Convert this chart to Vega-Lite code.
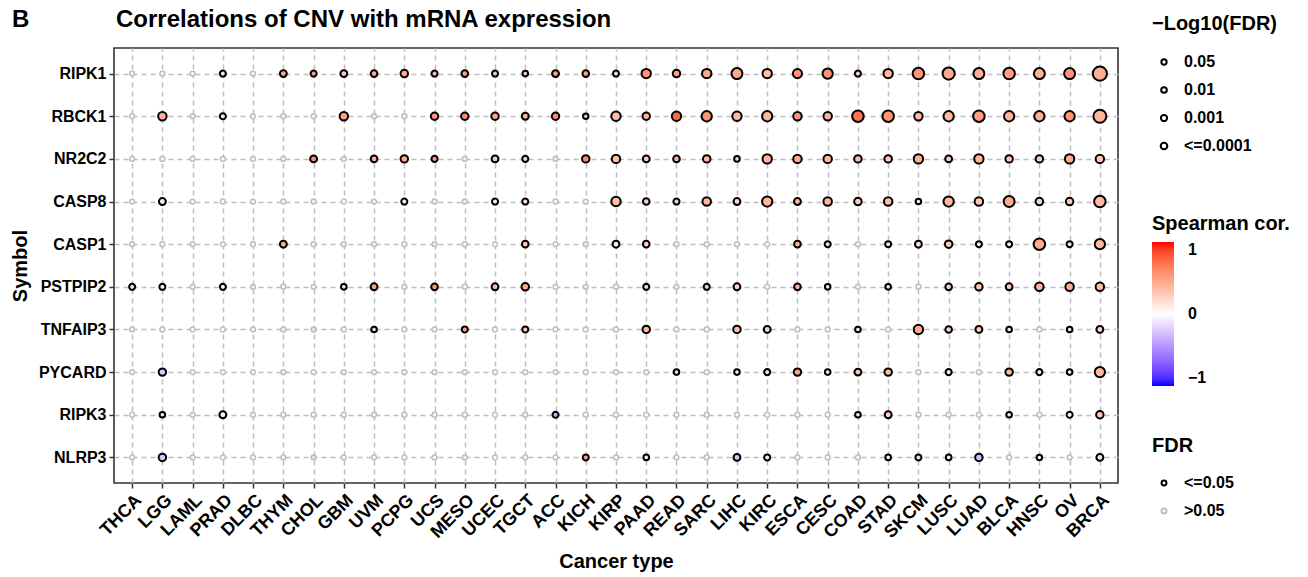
{
  "$schema": "https://vega.github.io/schema/vega-lite/v6.json",
  "width": 1004,
  "height": 435,
  "autosize": {"type": "none"},
  "padding": {"left": 114, "top": 48, "right": 190, "bottom": 94},
  "background": "white",
  "title": {
    "text": "B\u00a0\u00a0\u00a0\u00a0\u00a0\u00a0\u00a0\u00a0\u00a0\u00a0\u00a0\u00a0\u00a0Correlations of CNV with mRNA expression",
    "anchor": "start",
    "frame": "group",
    "dx": -102,
    "offset": -37,
    "baseline": "alphabetic",
    "font": "Liberation Sans",
    "fontSize": 24,
    "fontWeight": "bold",
    "color": "black"
  },
  "config": {
    "font": "Liberation Sans",
    "view": {"stroke": "#333333", "strokeWidth": 1.6},
    "axis": {
      "domain": false,
      "grid": true,
      "gridColor": "#BEBEBE",
      "gridDash": [5, 4],
      "gridWidth": 1.5,
      "ticks": true,
      "tickColor": "#333333",
      "tickWidth": 1.5,
      "tickSize": 5,
      "labelColor": "black",
      "labelFont": "Liberation Sans",
      "labelFontWeight": "bold",
      "labelFontSize": 16,
      "labelPadding": 3,
      "titleColor": "black",
      "titleFont": "Liberation Sans",
      "titleFontWeight": "bold",
      "titleFontSize": 20
    },
    "legend": {
      "titleFont": "Liberation Sans",
      "titleFontSize": 20,
      "titleFontWeight": "bold",
      "titleColor": "black",
      "labelFont": "Liberation Sans",
      "labelFontSize": 16,
      "labelFontWeight": "bold",
      "labelColor": "black"
    }
  },
  "data": {
    "values": [
      {"symbol": "RIPK1", "cancer": "THCA", "cor": 0.03, "logFDR": 0.5, "FDR": ">0.05"},
      {"symbol": "RIPK1", "cancer": "LGG", "cor": 0.02, "logFDR": 0.6, "FDR": ">0.05"},
      {"symbol": "RIPK1", "cancer": "LAML", "cor": 0.0, "logFDR": 0.4, "FDR": ">0.05"},
      {"symbol": "RIPK1", "cancer": "PRAD", "cor": 0.15, "logFDR": 2.8, "FDR": "<=0.05"},
      {"symbol": "RIPK1", "cancer": "DLBC", "cor": 0.06, "logFDR": 0.5, "FDR": ">0.05"},
      {"symbol": "RIPK1", "cancer": "THYM", "cor": 0.45, "logFDR": 4.6, "FDR": "<=0.05"},
      {"symbol": "RIPK1", "cancer": "CHOL", "cor": 0.5, "logFDR": 2.8, "FDR": "<=0.05"},
      {"symbol": "RIPK1", "cancer": "GBM", "cor": 0.3, "logFDR": 4.6, "FDR": "<=0.05"},
      {"symbol": "RIPK1", "cancer": "UVM", "cor": 0.45, "logFDR": 4.0, "FDR": "<=0.05"},
      {"symbol": "RIPK1", "cancer": "PCPG", "cor": 0.45, "logFDR": 6.0, "FDR": "<=0.05"},
      {"symbol": "RIPK1", "cancer": "UCS", "cor": 0.35, "logFDR": 2.8, "FDR": "<=0.05"},
      {"symbol": "RIPK1", "cancer": "MESO", "cor": 0.5, "logFDR": 4.0, "FDR": "<=0.05"},
      {"symbol": "RIPK1", "cancer": "UCEC", "cor": 0.3, "logFDR": 2.8, "FDR": "<=0.05"},
      {"symbol": "RIPK1", "cancer": "TGCT", "cor": 0.25, "logFDR": 2.0, "FDR": "<=0.05"},
      {"symbol": "RIPK1", "cancer": "ACC", "cor": 0.5, "logFDR": 4.6, "FDR": "<=0.05"},
      {"symbol": "RIPK1", "cancer": "KICH", "cor": 0.5, "logFDR": 4.0, "FDR": "<=0.05"},
      {"symbol": "RIPK1", "cancer": "KIRP", "cor": 0.25, "logFDR": 2.8, "FDR": "<=0.05"},
      {"symbol": "RIPK1", "cancer": "PAAD", "cor": 0.55, "logFDR": 11.3, "FDR": "<=0.05"},
      {"symbol": "RIPK1", "cancer": "READ", "cor": 0.5, "logFDR": 6.0, "FDR": "<=0.05"},
      {"symbol": "RIPK1", "cancer": "SARC", "cor": 0.45, "logFDR": 11.3, "FDR": "<=0.05"},
      {"symbol": "RIPK1", "cancer": "LIHC", "cor": 0.45, "logFDR": 16.7, "FDR": "<=0.05"},
      {"symbol": "RIPK1", "cancer": "KIRC", "cor": 0.35, "logFDR": 11.3, "FDR": "<=0.05"},
      {"symbol": "RIPK1", "cancer": "ESCA", "cor": 0.55, "logFDR": 10.4, "FDR": "<=0.05"},
      {"symbol": "RIPK1", "cancer": "CESC", "cor": 0.55, "logFDR": 14.3, "FDR": "<=0.05"},
      {"symbol": "RIPK1", "cancer": "COAD", "cor": 0.25, "logFDR": 2.8, "FDR": "<=0.05"},
      {"symbol": "RIPK1", "cancer": "STAD", "cor": 0.38, "logFDR": 11.3, "FDR": "<=0.05"},
      {"symbol": "RIPK1", "cancer": "SKCM", "cor": 0.55, "logFDR": 18.8, "FDR": "<=0.05"},
      {"symbol": "RIPK1", "cancer": "LUSC", "cor": 0.45, "logFDR": 21.4, "FDR": "<=0.05"},
      {"symbol": "RIPK1", "cancer": "LUAD", "cor": 0.42, "logFDR": 16.7, "FDR": "<=0.05"},
      {"symbol": "RIPK1", "cancer": "BLCA", "cor": 0.5, "logFDR": 18.8, "FDR": "<=0.05"},
      {"symbol": "RIPK1", "cancer": "HNSC", "cor": 0.42, "logFDR": 16.7, "FDR": "<=0.05"},
      {"symbol": "RIPK1", "cancer": "OV", "cor": 0.55, "logFDR": 16.7, "FDR": "<=0.05"},
      {"symbol": "RIPK1", "cancer": "BRCA", "cor": 0.42, "logFDR": 30.0, "FDR": "<=0.05"},

      {"symbol": "RBCK1", "cancer": "THCA", "cor": 0.03, "logFDR": 0.5, "FDR": ">0.05"},
      {"symbol": "RBCK1", "cancer": "LGG", "cor": 0.4, "logFDR": 8.6, "FDR": "<=0.05"},
      {"symbol": "RBCK1", "cancer": "LAML", "cor": -0.04, "logFDR": 0.4, "FDR": ">0.05"},
      {"symbol": "RBCK1", "cancer": "PRAD", "cor": 0.1, "logFDR": 2.8, "FDR": "<=0.05"},
      {"symbol": "RBCK1", "cancer": "DLBC", "cor": 0.05, "logFDR": 0.5, "FDR": ">0.05"},
      {"symbol": "RBCK1", "cancer": "THYM", "cor": 0.05, "logFDR": 0.6, "FDR": ">0.05"},
      {"symbol": "RBCK1", "cancer": "CHOL", "cor": 0.08, "logFDR": 0.5, "FDR": ">0.05"},
      {"symbol": "RBCK1", "cancer": "GBM", "cor": 0.5, "logFDR": 8.6, "FDR": "<=0.05"},
      {"symbol": "RBCK1", "cancer": "UVM", "cor": 0.1, "logFDR": 0.7, "FDR": ">0.05"},
      {"symbol": "RBCK1", "cancer": "PCPG", "cor": 0.05, "logFDR": 0.6, "FDR": ">0.05"},
      {"symbol": "RBCK1", "cancer": "UCS", "cor": 0.55, "logFDR": 6.0, "FDR": "<=0.05"},
      {"symbol": "RBCK1", "cancer": "MESO", "cor": 0.6, "logFDR": 6.0, "FDR": "<=0.05"},
      {"symbol": "RBCK1", "cancer": "UCEC", "cor": 0.45, "logFDR": 6.0, "FDR": "<=0.05"},
      {"symbol": "RBCK1", "cancer": "TGCT", "cor": 0.4, "logFDR": 4.6, "FDR": "<=0.05"},
      {"symbol": "RBCK1", "cancer": "ACC", "cor": 0.6, "logFDR": 6.0, "FDR": "<=0.05"},
      {"symbol": "RBCK1", "cancer": "KICH", "cor": 0.3, "logFDR": 1.6, "FDR": "<=0.05"},
      {"symbol": "RBCK1", "cancer": "KIRP", "cor": 0.35, "logFDR": 11.3, "FDR": "<=0.05"},
      {"symbol": "RBCK1", "cancer": "PAAD", "cor": 0.4, "logFDR": 6.0, "FDR": "<=0.05"},
      {"symbol": "RBCK1", "cancer": "READ", "cor": 0.75, "logFDR": 11.3, "FDR": "<=0.05"},
      {"symbol": "RBCK1", "cancer": "SARC", "cor": 0.55, "logFDR": 14.3, "FDR": "<=0.05"},
      {"symbol": "RBCK1", "cancer": "LIHC", "cor": 0.38, "logFDR": 11.3, "FDR": "<=0.05"},
      {"symbol": "RBCK1", "cancer": "KIRC", "cor": 0.38, "logFDR": 14.3, "FDR": "<=0.05"},
      {"symbol": "RBCK1", "cancer": "ESCA", "cor": 0.55, "logFDR": 8.6, "FDR": "<=0.05"},
      {"symbol": "RBCK1", "cancer": "CESC", "cor": 0.4, "logFDR": 8.6, "FDR": "<=0.05"},
      {"symbol": "RBCK1", "cancer": "COAD", "cor": 0.7, "logFDR": 18.8, "FDR": "<=0.05"},
      {"symbol": "RBCK1", "cancer": "STAD", "cor": 0.55, "logFDR": 18.8, "FDR": "<=0.05"},
      {"symbol": "RBCK1", "cancer": "SKCM", "cor": 0.38, "logFDR": 8.6, "FDR": "<=0.05"},
      {"symbol": "RBCK1", "cancer": "LUSC", "cor": 0.38, "logFDR": 14.3, "FDR": "<=0.05"},
      {"symbol": "RBCK1", "cancer": "LUAD", "cor": 0.5, "logFDR": 18.8, "FDR": "<=0.05"},
      {"symbol": "RBCK1", "cancer": "BLCA", "cor": 0.4, "logFDR": 14.3, "FDR": "<=0.05"},
      {"symbol": "RBCK1", "cancer": "HNSC", "cor": 0.42, "logFDR": 14.3, "FDR": "<=0.05"},
      {"symbol": "RBCK1", "cancer": "OV", "cor": 0.55, "logFDR": 14.3, "FDR": "<=0.05"},
      {"symbol": "RBCK1", "cancer": "BRCA", "cor": 0.4, "logFDR": 25.0, "FDR": "<=0.05"},

      {"symbol": "NR2C2", "cancer": "THCA", "cor": 0.02, "logFDR": 0.5, "FDR": ">0.05"},
      {"symbol": "NR2C2", "cancer": "LGG", "cor": 0.03, "logFDR": 0.7, "FDR": ">0.05"},
      {"symbol": "NR2C2", "cancer": "LAML", "cor": 0.0, "logFDR": 0.4, "FDR": ">0.05"},
      {"symbol": "NR2C2", "cancer": "PRAD", "cor": 0.04, "logFDR": 0.8, "FDR": ">0.05"},
      {"symbol": "NR2C2", "cancer": "DLBC", "cor": 0.02, "logFDR": 0.5, "FDR": ">0.05"},
      {"symbol": "NR2C2", "cancer": "THYM", "cor": -0.05, "logFDR": 0.6, "FDR": ">0.05"},
      {"symbol": "NR2C2", "cancer": "CHOL", "cor": 0.6, "logFDR": 4.6, "FDR": "<=0.05"},
      {"symbol": "NR2C2", "cancer": "GBM", "cor": 0.1, "logFDR": 0.8, "FDR": ">0.05"},
      {"symbol": "NR2C2", "cancer": "UVM", "cor": 0.45, "logFDR": 4.0, "FDR": "<=0.05"},
      {"symbol": "NR2C2", "cancer": "PCPG", "cor": 0.45, "logFDR": 6.0, "FDR": "<=0.05"},
      {"symbol": "NR2C2", "cancer": "UCS", "cor": 0.5, "logFDR": 2.8, "FDR": "<=0.05"},
      {"symbol": "NR2C2", "cancer": "MESO", "cor": 0.1, "logFDR": 0.7, "FDR": ">0.05"},
      {"symbol": "NR2C2", "cancer": "UCEC", "cor": 0.3, "logFDR": 4.6, "FDR": "<=0.05"},
      {"symbol": "NR2C2", "cancer": "TGCT", "cor": 0.25, "logFDR": 2.8, "FDR": "<=0.05"},
      {"symbol": "NR2C2", "cancer": "ACC", "cor": 0.1, "logFDR": 0.6, "FDR": ">0.05"},
      {"symbol": "NR2C2", "cancer": "KICH", "cor": 0.6, "logFDR": 6.0, "FDR": "<=0.05"},
      {"symbol": "NR2C2", "cancer": "KIRP", "cor": 0.35, "logFDR": 8.6, "FDR": "<=0.05"},
      {"symbol": "NR2C2", "cancer": "PAAD", "cor": 0.3, "logFDR": 4.6, "FDR": "<=0.05"},
      {"symbol": "NR2C2", "cancer": "READ", "cor": 0.4, "logFDR": 4.0, "FDR": "<=0.05"},
      {"symbol": "NR2C2", "cancer": "SARC", "cor": 0.35, "logFDR": 6.0, "FDR": "<=0.05"},
      {"symbol": "NR2C2", "cancer": "LIHC", "cor": 0.25, "logFDR": 2.0, "FDR": "<=0.05"},
      {"symbol": "NR2C2", "cancer": "KIRC", "cor": 0.4, "logFDR": 11.3, "FDR": "<=0.05"},
      {"symbol": "NR2C2", "cancer": "ESCA", "cor": 0.45, "logFDR": 8.6, "FDR": "<=0.05"},
      {"symbol": "NR2C2", "cancer": "CESC", "cor": 0.38, "logFDR": 8.6, "FDR": "<=0.05"},
      {"symbol": "NR2C2", "cancer": "COAD", "cor": 0.35, "logFDR": 6.0, "FDR": "<=0.05"},
      {"symbol": "NR2C2", "cancer": "STAD", "cor": 0.3, "logFDR": 6.0, "FDR": "<=0.05"},
      {"symbol": "NR2C2", "cancer": "SKCM", "cor": 0.42, "logFDR": 11.3, "FDR": "<=0.05"},
      {"symbol": "NR2C2", "cancer": "LUSC", "cor": 0.3, "logFDR": 4.6, "FDR": "<=0.05"},
      {"symbol": "NR2C2", "cancer": "LUAD", "cor": 0.4, "logFDR": 11.3, "FDR": "<=0.05"},
      {"symbol": "NR2C2", "cancer": "BLCA", "cor": 0.32, "logFDR": 6.0, "FDR": "<=0.05"},
      {"symbol": "NR2C2", "cancer": "HNSC", "cor": 0.3, "logFDR": 6.0, "FDR": "<=0.05"},
      {"symbol": "NR2C2", "cancer": "OV", "cor": 0.45, "logFDR": 11.3, "FDR": "<=0.05"},
      {"symbol": "NR2C2", "cancer": "BRCA", "cor": 0.3, "logFDR": 8.6, "FDR": "<=0.05"},

      {"symbol": "CASP8", "cancer": "THCA", "cor": 0.02, "logFDR": 0.5, "FDR": ">0.05"},
      {"symbol": "CASP8", "cancer": "LGG", "cor": 0.1, "logFDR": 4.6, "FDR": "<=0.05"},
      {"symbol": "CASP8", "cancer": "LAML", "cor": 0.0, "logFDR": 0.4, "FDR": ">0.05"},
      {"symbol": "CASP8", "cancer": "PRAD", "cor": 0.03, "logFDR": 0.7, "FDR": ">0.05"},
      {"symbol": "CASP8", "cancer": "DLBC", "cor": 0.02, "logFDR": 0.5, "FDR": ">0.05"},
      {"symbol": "CASP8", "cancer": "THYM", "cor": 0.03, "logFDR": 0.6, "FDR": ">0.05"},
      {"symbol": "CASP8", "cancer": "CHOL", "cor": 0.1, "logFDR": 0.7, "FDR": ">0.05"},
      {"symbol": "CASP8", "cancer": "GBM", "cor": 0.03, "logFDR": 0.8, "FDR": ">0.05"},
      {"symbol": "CASP8", "cancer": "UVM", "cor": 0.04, "logFDR": 0.5, "FDR": ">0.05"},
      {"symbol": "CASP8", "cancer": "PCPG", "cor": 0.15, "logFDR": 2.8, "FDR": "<=0.05"},
      {"symbol": "CASP8", "cancer": "UCS", "cor": 0.1, "logFDR": 0.6, "FDR": ">0.05"},
      {"symbol": "CASP8", "cancer": "MESO", "cor": 0.08, "logFDR": 0.7, "FDR": ">0.05"},
      {"symbol": "CASP8", "cancer": "UCEC", "cor": 0.15, "logFDR": 2.8, "FDR": "<=0.05"},
      {"symbol": "CASP8", "cancer": "TGCT", "cor": 0.2, "logFDR": 2.8, "FDR": "<=0.05"},
      {"symbol": "CASP8", "cancer": "ACC", "cor": 0.05, "logFDR": 0.6, "FDR": ">0.05"},
      {"symbol": "CASP8", "cancer": "KICH", "cor": 0.04, "logFDR": 0.5, "FDR": ">0.05"},
      {"symbol": "CASP8", "cancer": "KIRP", "cor": 0.35, "logFDR": 11.3, "FDR": "<=0.05"},
      {"symbol": "CASP8", "cancer": "PAAD", "cor": 0.25, "logFDR": 4.0, "FDR": "<=0.05"},
      {"symbol": "CASP8", "cancer": "READ", "cor": 0.25, "logFDR": 2.8, "FDR": "<=0.05"},
      {"symbol": "CASP8", "cancer": "SARC", "cor": 0.4, "logFDR": 8.6, "FDR": "<=0.05"},
      {"symbol": "CASP8", "cancer": "LIHC", "cor": 0.25, "logFDR": 4.6, "FDR": "<=0.05"},
      {"symbol": "CASP8", "cancer": "KIRC", "cor": 0.4, "logFDR": 14.3, "FDR": "<=0.05"},
      {"symbol": "CASP8", "cancer": "ESCA", "cor": 0.4, "logFDR": 4.6, "FDR": "<=0.05"},
      {"symbol": "CASP8", "cancer": "CESC", "cor": 0.4, "logFDR": 8.6, "FDR": "<=0.05"},
      {"symbol": "CASP8", "cancer": "COAD", "cor": 0.3, "logFDR": 6.0, "FDR": "<=0.05"},
      {"symbol": "CASP8", "cancer": "STAD", "cor": 0.35, "logFDR": 8.6, "FDR": "<=0.05"},
      {"symbol": "CASP8", "cancer": "SKCM", "cor": 0.15, "logFDR": 2.0, "FDR": "<=0.05"},
      {"symbol": "CASP8", "cancer": "LUSC", "cor": 0.38, "logFDR": 14.3, "FDR": "<=0.05"},
      {"symbol": "CASP8", "cancer": "LUAD", "cor": 0.3, "logFDR": 8.6, "FDR": "<=0.05"},
      {"symbol": "CASP8", "cancer": "BLCA", "cor": 0.45, "logFDR": 16.7, "FDR": "<=0.05"},
      {"symbol": "CASP8", "cancer": "HNSC", "cor": 0.25, "logFDR": 6.0, "FDR": "<=0.05"},
      {"symbol": "CASP8", "cancer": "OV", "cor": 0.3, "logFDR": 6.0, "FDR": "<=0.05"},
      {"symbol": "CASP8", "cancer": "BRCA", "cor": 0.38, "logFDR": 18.8, "FDR": "<=0.05"},

      {"symbol": "CASP1", "cancer": "THCA", "cor": 0.02, "logFDR": 0.5, "FDR": ">0.05"},
      {"symbol": "CASP1", "cancer": "LGG", "cor": 0.03, "logFDR": 0.7, "FDR": ">0.05"},
      {"symbol": "CASP1", "cancer": "LAML", "cor": 0.0, "logFDR": 0.4, "FDR": ">0.05"},
      {"symbol": "CASP1", "cancer": "PRAD", "cor": 0.04, "logFDR": 0.8, "FDR": ">0.05"},
      {"symbol": "CASP1", "cancer": "DLBC", "cor": 0.02, "logFDR": 0.5, "FDR": ">0.05"},
      {"symbol": "CASP1", "cancer": "THYM", "cor": 0.45, "logFDR": 4.6, "FDR": "<=0.05"},
      {"symbol": "CASP1", "cancer": "CHOL", "cor": 0.1, "logFDR": 0.7, "FDR": ">0.05"},
      {"symbol": "CASP1", "cancer": "GBM", "cor": -0.05, "logFDR": 0.6, "FDR": ">0.05"},
      {"symbol": "CASP1", "cancer": "UVM", "cor": 0.03, "logFDR": 0.5, "FDR": ">0.05"},
      {"symbol": "CASP1", "cancer": "PCPG", "cor": 0.03, "logFDR": 0.6, "FDR": ">0.05"},
      {"symbol": "CASP1", "cancer": "UCS", "cor": 0.1, "logFDR": 0.6, "FDR": ">0.05"},
      {"symbol": "CASP1", "cancer": "MESO", "cor": 0.03, "logFDR": 0.7, "FDR": ">0.05"},
      {"symbol": "CASP1", "cancer": "UCEC", "cor": 0.03, "logFDR": 0.8, "FDR": ">0.05"},
      {"symbol": "CASP1", "cancer": "TGCT", "cor": 0.3, "logFDR": 4.0, "FDR": "<=0.05"},
      {"symbol": "CASP1", "cancer": "ACC", "cor": 0.03, "logFDR": 0.5, "FDR": ">0.05"},
      {"symbol": "CASP1", "cancer": "KICH", "cor": 0.1, "logFDR": 0.6, "FDR": ">0.05"},
      {"symbol": "CASP1", "cancer": "KIRP", "cor": 0.15, "logFDR": 4.6, "FDR": "<=0.05"},
      {"symbol": "CASP1", "cancer": "PAAD", "cor": 0.25, "logFDR": 4.0, "FDR": "<=0.05"},
      {"symbol": "CASP1", "cancer": "READ", "cor": 0.05, "logFDR": 0.5, "FDR": ">0.05"},
      {"symbol": "CASP1", "cancer": "SARC", "cor": 0.04, "logFDR": 0.7, "FDR": ">0.05"},
      {"symbol": "CASP1", "cancer": "LIHC", "cor": 0.04, "logFDR": 0.6, "FDR": ">0.05"},
      {"symbol": "CASP1", "cancer": "KIRC", "cor": 0.03, "logFDR": 0.8, "FDR": ">0.05"},
      {"symbol": "CASP1", "cancer": "ESCA", "cor": 0.4, "logFDR": 4.0, "FDR": "<=0.05"},
      {"symbol": "CASP1", "cancer": "CESC", "cor": 0.2, "logFDR": 2.8, "FDR": "<=0.05"},
      {"symbol": "CASP1", "cancer": "COAD", "cor": 0.03, "logFDR": 0.6, "FDR": ">0.05"},
      {"symbol": "CASP1", "cancer": "STAD", "cor": 0.15, "logFDR": 2.8, "FDR": "<=0.05"},
      {"symbol": "CASP1", "cancer": "SKCM", "cor": 0.2, "logFDR": 4.6, "FDR": "<=0.05"},
      {"symbol": "CASP1", "cancer": "LUSC", "cor": 0.3, "logFDR": 6.0, "FDR": "<=0.05"},
      {"symbol": "CASP1", "cancer": "LUAD", "cor": 0.15, "logFDR": 2.8, "FDR": "<=0.05"},
      {"symbol": "CASP1", "cancer": "BLCA", "cor": 0.15, "logFDR": 2.8, "FDR": "<=0.05"},
      {"symbol": "CASP1", "cancer": "HNSC", "cor": 0.45, "logFDR": 18.8, "FDR": "<=0.05"},
      {"symbol": "CASP1", "cancer": "OV", "cor": 0.15, "logFDR": 2.8, "FDR": "<=0.05"},
      {"symbol": "CASP1", "cancer": "BRCA", "cor": 0.38, "logFDR": 14.3, "FDR": "<=0.05"},

      {"symbol": "PSTPIP2", "cancer": "THCA", "cor": -0.15, "logFDR": 2.8, "FDR": "<=0.05"},
      {"symbol": "PSTPIP2", "cancer": "LGG", "cor": 0.1, "logFDR": 2.8, "FDR": "<=0.05"},
      {"symbol": "PSTPIP2", "cancer": "LAML", "cor": 0.0, "logFDR": 0.4, "FDR": ">0.05"},
      {"symbol": "PSTPIP2", "cancer": "PRAD", "cor": 0.1, "logFDR": 2.8, "FDR": "<=0.05"},
      {"symbol": "PSTPIP2", "cancer": "DLBC", "cor": 0.1, "logFDR": 0.6, "FDR": ">0.05"},
      {"symbol": "PSTPIP2", "cancer": "THYM", "cor": 0.04, "logFDR": 0.7, "FDR": ">0.05"},
      {"symbol": "PSTPIP2", "cancer": "CHOL", "cor": 0.05, "logFDR": 0.5, "FDR": ">0.05"},
      {"symbol": "PSTPIP2", "cancer": "GBM", "cor": 0.1, "logFDR": 2.0, "FDR": "<=0.05"},
      {"symbol": "PSTPIP2", "cancer": "UVM", "cor": 0.5, "logFDR": 4.6, "FDR": "<=0.05"},
      {"symbol": "PSTPIP2", "cancer": "PCPG", "cor": 0.04, "logFDR": 0.6, "FDR": ">0.05"},
      {"symbol": "PSTPIP2", "cancer": "UCS", "cor": 0.55, "logFDR": 4.0, "FDR": "<=0.05"},
      {"symbol": "PSTPIP2", "cancer": "MESO", "cor": 0.03, "logFDR": 0.7, "FDR": ">0.05"},
      {"symbol": "PSTPIP2", "cancer": "UCEC", "cor": 0.4, "logFDR": 4.6, "FDR": "<=0.05"},
      {"symbol": "PSTPIP2", "cancer": "TGCT", "cor": 0.45, "logFDR": 6.0, "FDR": "<=0.05"},
      {"symbol": "PSTPIP2", "cancer": "ACC", "cor": 0.03, "logFDR": 0.5, "FDR": ">0.05"},
      {"symbol": "PSTPIP2", "cancer": "KICH", "cor": 0.1, "logFDR": 0.6, "FDR": ">0.05"},
      {"symbol": "PSTPIP2", "cancer": "KIRP", "cor": 0.04, "logFDR": 0.7, "FDR": ">0.05"},
      {"symbol": "PSTPIP2", "cancer": "PAAD", "cor": 0.2, "logFDR": 2.8, "FDR": "<=0.05"},
      {"symbol": "PSTPIP2", "cancer": "READ", "cor": 0.1, "logFDR": 0.6, "FDR": ">0.05"},
      {"symbol": "PSTPIP2", "cancer": "SARC", "cor": 0.25, "logFDR": 2.8, "FDR": "<=0.05"},
      {"symbol": "PSTPIP2", "cancer": "LIHC", "cor": 0.25, "logFDR": 4.6, "FDR": "<=0.05"},
      {"symbol": "PSTPIP2", "cancer": "KIRC", "cor": 0.04, "logFDR": 0.8, "FDR": ">0.05"},
      {"symbol": "PSTPIP2", "cancer": "ESCA", "cor": 0.4, "logFDR": 4.0, "FDR": "<=0.05"},
      {"symbol": "PSTPIP2", "cancer": "CESC", "cor": 0.15, "logFDR": 2.0, "FDR": "<=0.05"},
      {"symbol": "PSTPIP2", "cancer": "COAD", "cor": 0.03, "logFDR": 0.6, "FDR": ">0.05"},
      {"symbol": "PSTPIP2", "cancer": "STAD", "cor": 0.1, "logFDR": 2.0, "FDR": "<=0.05"},
      {"symbol": "PSTPIP2", "cancer": "SKCM", "cor": 0.04, "logFDR": 0.7, "FDR": ">0.05"},
      {"symbol": "PSTPIP2", "cancer": "LUSC", "cor": 0.25, "logFDR": 4.0, "FDR": "<=0.05"},
      {"symbol": "PSTPIP2", "cancer": "LUAD", "cor": 0.3, "logFDR": 6.0, "FDR": "<=0.05"},
      {"symbol": "PSTPIP2", "cancer": "BLCA", "cor": 0.3, "logFDR": 4.6, "FDR": "<=0.05"},
      {"symbol": "PSTPIP2", "cancer": "HNSC", "cor": 0.4, "logFDR": 8.6, "FDR": "<=0.05"},
      {"symbol": "PSTPIP2", "cancer": "OV", "cor": 0.42, "logFDR": 8.6, "FDR": "<=0.05"},
      {"symbol": "PSTPIP2", "cancer": "BRCA", "cor": 0.35, "logFDR": 8.6, "FDR": "<=0.05"},

      {"symbol": "TNFAIP3", "cancer": "THCA", "cor": 0.02, "logFDR": 0.5, "FDR": ">0.05"},
      {"symbol": "TNFAIP3", "cancer": "LGG", "cor": 0.03, "logFDR": 0.7, "FDR": ">0.05"},
      {"symbol": "TNFAIP3", "cancer": "LAML", "cor": 0.0, "logFDR": 0.4, "FDR": ">0.05"},
      {"symbol": "TNFAIP3", "cancer": "PRAD", "cor": 0.03, "logFDR": 0.8, "FDR": ">0.05"},
      {"symbol": "TNFAIP3", "cancer": "DLBC", "cor": 0.02, "logFDR": 0.5, "FDR": ">0.05"},
      {"symbol": "TNFAIP3", "cancer": "THYM", "cor": 0.08, "logFDR": 0.6, "FDR": ">0.05"},
      {"symbol": "TNFAIP3", "cancer": "CHOL", "cor": 0.2, "logFDR": 0.9, "FDR": ">0.05"},
      {"symbol": "TNFAIP3", "cancer": "GBM", "cor": 0.03, "logFDR": 0.6, "FDR": ">0.05"},
      {"symbol": "TNFAIP3", "cancer": "UVM", "cor": 0.2, "logFDR": 2.0, "FDR": "<=0.05"},
      {"symbol": "TNFAIP3", "cancer": "PCPG", "cor": 0.03, "logFDR": 0.5, "FDR": ">0.05"},
      {"symbol": "TNFAIP3", "cancer": "UCS", "cor": 0.03, "logFDR": 0.6, "FDR": ">0.05"},
      {"symbol": "TNFAIP3", "cancer": "MESO", "cor": 0.5, "logFDR": 2.8, "FDR": "<=0.05"},
      {"symbol": "TNFAIP3", "cancer": "UCEC", "cor": 0.03, "logFDR": 0.7, "FDR": ">0.05"},
      {"symbol": "TNFAIP3", "cancer": "TGCT", "cor": 0.3, "logFDR": 2.8, "FDR": "<=0.05"},
      {"symbol": "TNFAIP3", "cancer": "ACC", "cor": 0.03, "logFDR": 0.5, "FDR": ">0.05"},
      {"symbol": "TNFAIP3", "cancer": "KICH", "cor": 0.04, "logFDR": 0.6, "FDR": ">0.05"},
      {"symbol": "TNFAIP3", "cancer": "KIRP", "cor": 0.03, "logFDR": 0.7, "FDR": ">0.05"},
      {"symbol": "TNFAIP3", "cancer": "PAAD", "cor": 0.4, "logFDR": 6.0, "FDR": "<=0.05"},
      {"symbol": "TNFAIP3", "cancer": "READ", "cor": 0.04, "logFDR": 0.6, "FDR": ">0.05"},
      {"symbol": "TNFAIP3", "cancer": "SARC", "cor": 0.03, "logFDR": 0.7, "FDR": ">0.05"},
      {"symbol": "TNFAIP3", "cancer": "LIHC", "cor": 0.35, "logFDR": 6.0, "FDR": "<=0.05"},
      {"symbol": "TNFAIP3", "cancer": "KIRC", "cor": 0.25, "logFDR": 4.6, "FDR": "<=0.05"},
      {"symbol": "TNFAIP3", "cancer": "ESCA", "cor": 0.04, "logFDR": 0.6, "FDR": ">0.05"},
      {"symbol": "TNFAIP3", "cancer": "CESC", "cor": 0.03, "logFDR": 0.7, "FDR": ">0.05"},
      {"symbol": "TNFAIP3", "cancer": "COAD", "cor": 0.1, "logFDR": 2.0, "FDR": "<=0.05"},
      {"symbol": "TNFAIP3", "cancer": "STAD", "cor": 0.04, "logFDR": 0.6, "FDR": ">0.05"},
      {"symbol": "TNFAIP3", "cancer": "SKCM", "cor": 0.45, "logFDR": 11.3, "FDR": "<=0.05"},
      {"symbol": "TNFAIP3", "cancer": "LUSC", "cor": 0.25, "logFDR": 4.0, "FDR": "<=0.05"},
      {"symbol": "TNFAIP3", "cancer": "LUAD", "cor": 0.3, "logFDR": 4.6, "FDR": "<=0.05"},
      {"symbol": "TNFAIP3", "cancer": "BLCA", "cor": 0.1, "logFDR": 2.0, "FDR": "<=0.05"},
      {"symbol": "TNFAIP3", "cancer": "HNSC", "cor": 0.04, "logFDR": 0.7, "FDR": ">0.05"},
      {"symbol": "TNFAIP3", "cancer": "OV", "cor": 0.15, "logFDR": 2.0, "FDR": "<=0.05"},
      {"symbol": "TNFAIP3", "cancer": "BRCA", "cor": 0.25, "logFDR": 4.6, "FDR": "<=0.05"},

      {"symbol": "PYCARD", "cancer": "THCA", "cor": 0.02, "logFDR": 0.5, "FDR": ">0.05"},
      {"symbol": "PYCARD", "cancer": "LGG", "cor": -0.25, "logFDR": 6.0, "FDR": "<=0.05"},
      {"symbol": "PYCARD", "cancer": "LAML", "cor": 0.0, "logFDR": 0.4, "FDR": ">0.05"},
      {"symbol": "PYCARD", "cancer": "PRAD", "cor": 0.03, "logFDR": 0.8, "FDR": ">0.05"},
      {"symbol": "PYCARD", "cancer": "DLBC", "cor": 0.02, "logFDR": 0.5, "FDR": ">0.05"},
      {"symbol": "PYCARD", "cancer": "THYM", "cor": 0.03, "logFDR": 0.6, "FDR": ">0.05"},
      {"symbol": "PYCARD", "cancer": "CHOL", "cor": 0.03, "logFDR": 0.7, "FDR": ">0.05"},
      {"symbol": "PYCARD", "cancer": "GBM", "cor": -0.05, "logFDR": 0.6, "FDR": ">0.05"},
      {"symbol": "PYCARD", "cancer": "UVM", "cor": 0.02, "logFDR": 0.5, "FDR": ">0.05"},
      {"symbol": "PYCARD", "cancer": "PCPG", "cor": 0.03, "logFDR": 0.6, "FDR": ">0.05"},
      {"symbol": "PYCARD", "cancer": "UCS", "cor": 0.03, "logFDR": 0.6, "FDR": ">0.05"},
      {"symbol": "PYCARD", "cancer": "MESO", "cor": 0.05, "logFDR": 0.7, "FDR": ">0.05"},
      {"symbol": "PYCARD", "cancer": "UCEC", "cor": 0.03, "logFDR": 0.8, "FDR": ">0.05"},
      {"symbol": "PYCARD", "cancer": "TGCT", "cor": 0.02, "logFDR": 0.6, "FDR": ">0.05"},
      {"symbol": "PYCARD", "cancer": "ACC", "cor": -0.05, "logFDR": 0.5, "FDR": ">0.05"},
      {"symbol": "PYCARD", "cancer": "KICH", "cor": 0.02, "logFDR": 0.6, "FDR": ">0.05"},
      {"symbol": "PYCARD", "cancer": "KIRP", "cor": 0.03, "logFDR": 0.7, "FDR": ">0.05"},
      {"symbol": "PYCARD", "cancer": "PAAD", "cor": 0.05, "logFDR": 0.8, "FDR": ">0.05"},
      {"symbol": "PYCARD", "cancer": "READ", "cor": 0.2, "logFDR": 2.0, "FDR": "<=0.05"},
      {"symbol": "PYCARD", "cancer": "SARC", "cor": 0.03, "logFDR": 0.7, "FDR": ">0.05"},
      {"symbol": "PYCARD", "cancer": "LIHC", "cor": 0.1, "logFDR": 2.0, "FDR": "<=0.05"},
      {"symbol": "PYCARD", "cancer": "KIRC", "cor": 0.2, "logFDR": 2.8, "FDR": "<=0.05"},
      {"symbol": "PYCARD", "cancer": "ESCA", "cor": 0.5, "logFDR": 6.0, "FDR": "<=0.05"},
      {"symbol": "PYCARD", "cancer": "CESC", "cor": 0.1, "logFDR": 2.0, "FDR": "<=0.05"},
      {"symbol": "PYCARD", "cancer": "COAD", "cor": 0.3, "logFDR": 4.6, "FDR": "<=0.05"},
      {"symbol": "PYCARD", "cancer": "STAD", "cor": 0.35, "logFDR": 6.0, "FDR": "<=0.05"},
      {"symbol": "PYCARD", "cancer": "SKCM", "cor": 0.03, "logFDR": 0.7, "FDR": ">0.05"},
      {"symbol": "PYCARD", "cancer": "LUSC", "cor": 0.1, "logFDR": 2.8, "FDR": "<=0.05"},
      {"symbol": "PYCARD", "cancer": "LUAD", "cor": 0.03, "logFDR": 0.8, "FDR": ">0.05"},
      {"symbol": "PYCARD", "cancer": "BLCA", "cor": 0.38, "logFDR": 6.0, "FDR": "<=0.05"},
      {"symbol": "PYCARD", "cancer": "HNSC", "cor": 0.15, "logFDR": 2.8, "FDR": "<=0.05"},
      {"symbol": "PYCARD", "cancer": "OV", "cor": 0.1, "logFDR": 2.0, "FDR": "<=0.05"},
      {"symbol": "PYCARD", "cancer": "BRCA", "cor": 0.38, "logFDR": 14.3, "FDR": "<=0.05"},

      {"symbol": "RIPK3", "cancer": "THCA", "cor": 0.02, "logFDR": 0.5, "FDR": ">0.05"},
      {"symbol": "RIPK3", "cancer": "LGG", "cor": 0.1, "logFDR": 2.0, "FDR": "<=0.05"},
      {"symbol": "RIPK3", "cancer": "LAML", "cor": 0.0, "logFDR": 0.4, "FDR": ">0.05"},
      {"symbol": "RIPK3", "cancer": "PRAD", "cor": -0.05, "logFDR": 4.6, "FDR": "<=0.05"},
      {"symbol": "RIPK3", "cancer": "DLBC", "cor": 0.02, "logFDR": 0.5, "FDR": ">0.05"},
      {"symbol": "RIPK3", "cancer": "THYM", "cor": 0.02, "logFDR": 0.6, "FDR": ">0.05"},
      {"symbol": "RIPK3", "cancer": "CHOL", "cor": 0.03, "logFDR": 0.7, "FDR": ">0.05"},
      {"symbol": "RIPK3", "cancer": "GBM", "cor": 0.02, "logFDR": 0.6, "FDR": ">0.05"},
      {"symbol": "RIPK3", "cancer": "UVM", "cor": 0.03, "logFDR": 0.5, "FDR": ">0.05"},
      {"symbol": "RIPK3", "cancer": "PCPG", "cor": 0.02, "logFDR": 0.6, "FDR": ">0.05"},
      {"symbol": "RIPK3", "cancer": "UCS", "cor": 0.02, "logFDR": 0.6, "FDR": ">0.05"},
      {"symbol": "RIPK3", "cancer": "MESO", "cor": 0.02, "logFDR": 0.7, "FDR": ">0.05"},
      {"symbol": "RIPK3", "cancer": "UCEC", "cor": 0.02, "logFDR": 0.8, "FDR": ">0.05"},
      {"symbol": "RIPK3", "cancer": "TGCT", "cor": 0.02, "logFDR": 0.6, "FDR": ">0.05"},
      {"symbol": "RIPK3", "cancer": "ACC", "cor": -0.35, "logFDR": 2.8, "FDR": "<=0.05"},
      {"symbol": "RIPK3", "cancer": "KICH", "cor": 0.02, "logFDR": 0.6, "FDR": ">0.05"},
      {"symbol": "RIPK3", "cancer": "KIRP", "cor": 0.02, "logFDR": 0.7, "FDR": ">0.05"},
      {"symbol": "RIPK3", "cancer": "PAAD", "cor": 0.02, "logFDR": 0.8, "FDR": ">0.05"},
      {"symbol": "RIPK3", "cancer": "READ", "cor": 0.02, "logFDR": 0.5, "FDR": ">0.05"},
      {"symbol": "RIPK3", "cancer": "SARC", "cor": 0.02, "logFDR": 0.7, "FDR": ">0.05"},
      {"symbol": "RIPK3", "cancer": "LIHC", "cor": 0.02, "logFDR": 0.6, "FDR": ">0.05"},
      {"symbol": "RIPK3", "cancer": "KIRC", "cor": 0.02, "logFDR": 0.8, "FDR": ">0.05"},
      {"symbol": "RIPK3", "cancer": "ESCA", "cor": 0.02, "logFDR": 0.6, "FDR": ">0.05"},
      {"symbol": "RIPK3", "cancer": "CESC", "cor": 0.02, "logFDR": 0.7, "FDR": ">0.05"},
      {"symbol": "RIPK3", "cancer": "COAD", "cor": 0.1, "logFDR": 2.0, "FDR": "<=0.05"},
      {"symbol": "RIPK3", "cancer": "STAD", "cor": 0.25, "logFDR": 4.6, "FDR": "<=0.05"},
      {"symbol": "RIPK3", "cancer": "SKCM", "cor": 0.02, "logFDR": 0.7, "FDR": ">0.05"},
      {"symbol": "RIPK3", "cancer": "LUSC", "cor": 0.02, "logFDR": 0.6, "FDR": ">0.05"},
      {"symbol": "RIPK3", "cancer": "LUAD", "cor": 0.02, "logFDR": 0.8, "FDR": ">0.05"},
      {"symbol": "RIPK3", "cancer": "BLCA", "cor": 0.1, "logFDR": 2.0, "FDR": "<=0.05"},
      {"symbol": "RIPK3", "cancer": "HNSC", "cor": 0.02, "logFDR": 0.7, "FDR": ">0.05"},
      {"symbol": "RIPK3", "cancer": "OV", "cor": 0.1, "logFDR": 2.8, "FDR": "<=0.05"},
      {"symbol": "RIPK3", "cancer": "BRCA", "cor": 0.3, "logFDR": 6.0, "FDR": "<=0.05"},

      {"symbol": "NLRP3", "cancer": "THCA", "cor": 0.02, "logFDR": 0.5, "FDR": ">0.05"},
      {"symbol": "NLRP3", "cancer": "LGG", "cor": -0.25, "logFDR": 6.0, "FDR": "<=0.05"},
      {"symbol": "NLRP3", "cancer": "LAML", "cor": 0.05, "logFDR": 0.4, "FDR": ">0.05"},
      {"symbol": "NLRP3", "cancer": "PRAD", "cor": 0.02, "logFDR": 0.8, "FDR": ">0.05"},
      {"symbol": "NLRP3", "cancer": "DLBC", "cor": 0.02, "logFDR": 0.5, "FDR": ">0.05"},
      {"symbol": "NLRP3", "cancer": "THYM", "cor": -0.05, "logFDR": 0.6, "FDR": ">0.05"},
      {"symbol": "NLRP3", "cancer": "CHOL", "cor": -0.15, "logFDR": 0.7, "FDR": ">0.05"},
      {"symbol": "NLRP3", "cancer": "GBM", "cor": 0.02, "logFDR": 0.6, "FDR": ">0.05"},
      {"symbol": "NLRP3", "cancer": "UVM", "cor": 0.02, "logFDR": 0.5, "FDR": ">0.05"},
      {"symbol": "NLRP3", "cancer": "PCPG", "cor": 0.02, "logFDR": 0.6, "FDR": ">0.05"},
      {"symbol": "NLRP3", "cancer": "UCS", "cor": 0.02, "logFDR": 0.6, "FDR": ">0.05"},
      {"symbol": "NLRP3", "cancer": "MESO", "cor": -0.08, "logFDR": 0.7, "FDR": ">0.05"},
      {"symbol": "NLRP3", "cancer": "UCEC", "cor": 0.02, "logFDR": 0.8, "FDR": ">0.05"},
      {"symbol": "NLRP3", "cancer": "TGCT", "cor": 0.02, "logFDR": 0.6, "FDR": ">0.05"},
      {"symbol": "NLRP3", "cancer": "ACC", "cor": 0.02, "logFDR": 0.5, "FDR": ">0.05"},
      {"symbol": "NLRP3", "cancer": "KICH", "cor": 0.5, "logFDR": 2.8, "FDR": "<=0.05"},
      {"symbol": "NLRP3", "cancer": "KIRP", "cor": 0.02, "logFDR": 0.7, "FDR": ">0.05"},
      {"symbol": "NLRP3", "cancer": "PAAD", "cor": 0.05, "logFDR": 2.0, "FDR": "<=0.05"},
      {"symbol": "NLRP3", "cancer": "READ", "cor": 0.02, "logFDR": 0.5, "FDR": ">0.05"},
      {"symbol": "NLRP3", "cancer": "SARC", "cor": -0.05, "logFDR": 0.7, "FDR": ">0.05"},
      {"symbol": "NLRP3", "cancer": "LIHC", "cor": -0.25, "logFDR": 4.6, "FDR": "<=0.05"},
      {"symbol": "NLRP3", "cancer": "KIRC", "cor": 0.1, "logFDR": 2.8, "FDR": "<=0.05"},
      {"symbol": "NLRP3", "cancer": "ESCA", "cor": 0.02, "logFDR": 0.6, "FDR": ">0.05"},
      {"symbol": "NLRP3", "cancer": "CESC", "cor": 0.02, "logFDR": 0.7, "FDR": ">0.05"},
      {"symbol": "NLRP3", "cancer": "COAD", "cor": 0.02, "logFDR": 0.6, "FDR": ">0.05"},
      {"symbol": "NLRP3", "cancer": "STAD", "cor": 0.05, "logFDR": 2.0, "FDR": "<=0.05"},
      {"symbol": "NLRP3", "cancer": "SKCM", "cor": -0.15, "logFDR": 2.8, "FDR": "<=0.05"},
      {"symbol": "NLRP3", "cancer": "LUSC", "cor": -0.05, "logFDR": 2.0, "FDR": "<=0.05"},
      {"symbol": "NLRP3", "cancer": "LUAD", "cor": -0.3, "logFDR": 6.0, "FDR": "<=0.05"},
      {"symbol": "NLRP3", "cancer": "BLCA", "cor": 0.02, "logFDR": 0.7, "FDR": ">0.05"},
      {"symbol": "NLRP3", "cancer": "HNSC", "cor": 0.05, "logFDR": 1.6, "FDR": "<=0.05"},
      {"symbol": "NLRP3", "cancer": "OV", "cor": 0.02, "logFDR": 0.6, "FDR": ">0.05"},
      {"symbol": "NLRP3", "cancer": "BRCA", "cor": -0.12, "logFDR": 4.6, "FDR": "<=0.05"}
    ]
  },
  "mark": {"type": "point", "shape": "circle", "filled": true, "opacity": 1},
  "encoding": {
    "x": {
      "field": "cancer",
      "type": "nominal",
      "scale": {
        "type": "point",
        "padding": 0.6,
        "domain": ["THCA", "LGG", "LAML", "PRAD", "DLBC", "THYM", "CHOL", "GBM", "UVM", "PCPG", "UCS", "MESO", "UCEC", "TGCT", "ACC", "KICH", "KIRP", "PAAD", "READ", "SARC", "LIHC", "KIRC", "ESCA", "CESC", "COAD", "STAD", "SKCM", "LUSC", "LUAD", "BLCA", "HNSC", "OV", "BRCA"]
      },
      "axis": {
        "title": "Cancer type",
        "grid": true,
        "labelAngle": -45,
        "labelAlign": "right",
        "labelBaseline": "top",
        "labelFontSize": 18,
        "titlePadding": 10
      }
    },
    "y": {
      "field": "symbol",
      "type": "nominal",
      "scale": {
        "type": "point",
        "padding": 0.6,
        "domain": ["RIPK1", "RBCK1", "NR2C2", "CASP8", "CASP1", "PSTPIP2", "TNFAIP3", "PYCARD", "RIPK3", "NLRP3"]
      },
      "axis": {"title": "Symbol", "grid": true, "titlePadding": 8}
    },
    "fill": {
      "field": "cor",
      "type": "quantitative",
      "scale": {"domain": [-1, 0, 1], "range": ["#0000FF", "#FFFFFF", "#FF0000"], "interpolate": "lab"},
      "legend": {
        "title": "Spearman cor.",
        "orient": "none",
        "legendX": 1038,
        "legendY": 166,
        "direction": "vertical",
        "gradientLength": 144,
        "gradientThickness": 22,
        "gradientStrokeWidth": 0,
        "values": [-1, 0, 1],
        "labelExpr": "datum.value > 0 ? '1' : datum.value < 0 ? '\u22121' : '0'",
        "labelBaseline": "middle",
        "labelOffset": 14,
        "titlePadding": 8
      }
    },
    "stroke": {
      "field": "FDR",
      "type": "nominal",
      "scale": {"domain": ["<=0.05", ">0.05"], "range": ["#000000", "#BEBEBE"]},
      "legend": {
        "title": "FDR",
        "orient": "none",
        "legendX": 1038,
        "legendY": 388,
        "symbolType": "circle",
        "symbolFillColor": "white",
        "symbolStrokeWidth": 2,
        "symbolSize": 24,
        "rowPadding": 12,
        "symbolOffset": 4,
        "labelOffset": 12,
        "titlePadding": 19
      }
    },
    "size": {
      "field": "logFDR",
      "type": "quantitative",
      "scale": {"domain": [0, 40], "range": [20, 260]},
      "legend": {
        "title": "\u2212Log10(FDR)",
        "orient": "none",
        "legendX": 1038,
        "legendY": -34,
        "values": [1.3, 2, 3, 4],
        "labelExpr": "datum.value == 1.3 ? '0.05' : datum.value == 2 ? '0.01' : datum.value == 3 ? '0.001' : '<=0.0001'",
        "symbolType": "circle",
        "symbolFillColor": "white",
        "symbolStrokeColor": "black",
        "symbolStrokeWidth": 2,
        "rowPadding": 12,
        "symbolOffset": 4,
        "labelOffset": 12,
        "titlePadding": 20,
        "encode": {"symbols": {"size": {"value": 24}}}
      }
    },
    "strokeWidth": {"condition": {"test": "datum.FDR === '<=0.05'", "value": 2}, "value": 1.5}
  }
}
